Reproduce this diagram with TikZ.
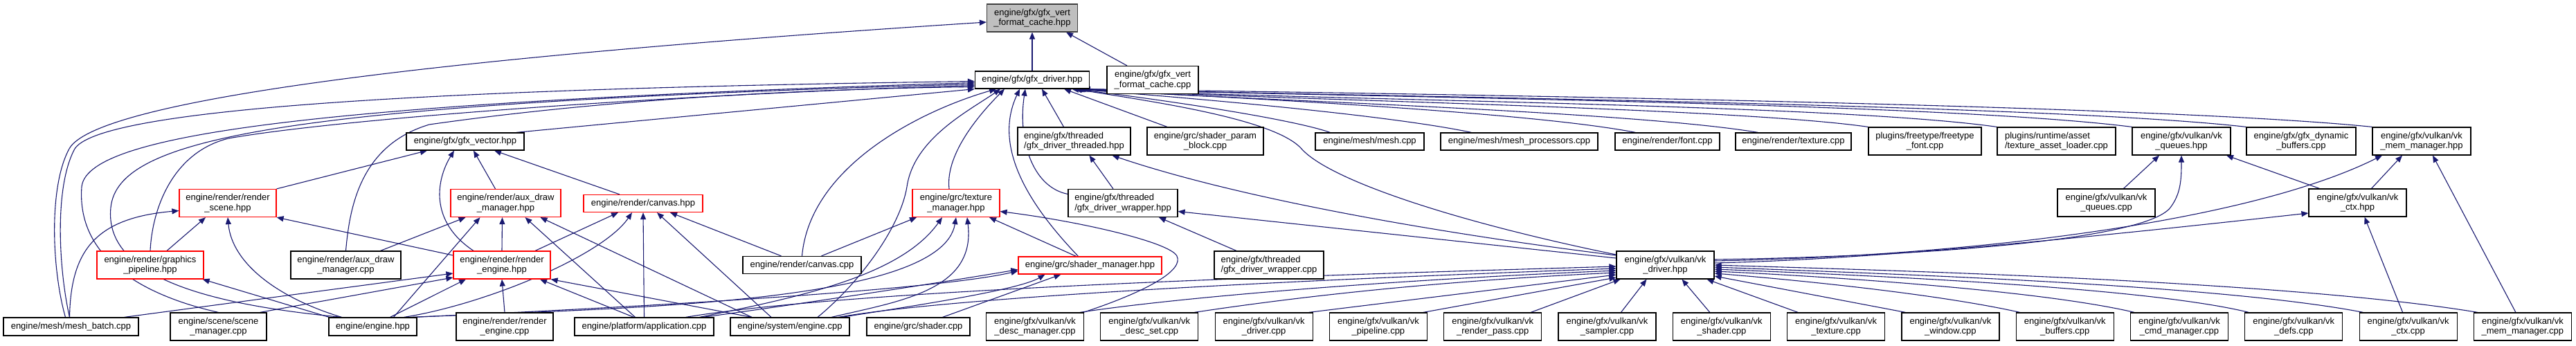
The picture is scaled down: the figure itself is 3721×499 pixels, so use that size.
\documentclass[tikz,border=0pt]{standalone}
\usepackage{fontspec}
\setmainfont{Liberation Sans}
\usetikzlibrary{arrows.meta}
\definecolor{navy}{HTML}{191970}
\definecolor{rootfill}{HTML}{BFBFBF}
\newcommand\nodefont{\fontsize{13}{14.3}\selectfont}
\pgfdeclarelayer{back}
\pgfdeclarelayer{bg}
\pgfsetlayers{back,bg,main}
\begin{document}
\begin{tikzpicture}[x=1pt,y=-1pt,
  box/.style={draw=black,line width=1.2pt,fill=white,inner sep=0pt,font=\nodefont,align=center},
  rbox/.style={box,draw=red},
  one/.style={minimum height=25pt},
  two/.style={minimum height=40pt},
  w/.style={minimum width=#1},
  e/.style={draw=navy,line width=1.1pt,-{Triangle[length=10pt,width=8pt]}}]
\begin{pgfonlayer}{back}
\fill[white] (0,0) rectangle (3721,499);
\end{pgfonlayer}
\useasboundingbox (0,0) rectangle (3721,499);
% row 1-2
\node[box,fill=rootfill,draw=black!75,w=131pt,two] (R) at (1491,26) {engine/gfx/gfx\_vert\\\_format\_cache.hpp};
\node[box,w=165pt,one] (D) at (1491,115.5) {engine/gfx/gfx\_driver.hpp};
\node[box,w=132pt,two] (VC) at (1665,115.5) {engine/gfx/gfx\_vert\\\_format\_cache.cpp};
% row 3
\node[box,w=170pt,one] (GV) at (672,204.5) {engine/gfx/gfx\_vector.hpp};
\node[box,w=163pt,two,align=left] (DT) at (1551.5,204) {engine/gfx/threaded\\/gfx\_driver\_threaded.hpp};
\node[box,w=168pt,two] (SPB) at (1741,204) {engine/grc/shader\_param\\\_block.cpp};
\node[box,w=157pt,one] (MESH) at (1978.5,204.5) {engine/mesh/mesh.cpp};
\node[box,w=227pt,one] (MP) at (2194.5,204.5) {engine/mesh/mesh\_processors.cpp};
\node[box,w=151pt,one] (FONT) at (2408.5,204.5) {engine/render/font.cpp};
\node[box,w=167pt,one] (TEX) at (2590.5,204.5) {engine/render/texture.cpp};
\node[box,w=163pt,two] (FT) at (2780.5,204) {plugins/freetype/freetype\\\_font.cpp};
\node[box,w=171pt,two,align=left] (TAL) at (2970.5,204) {plugins/runtime/asset\\/texture\_asset\_loader.cpp};
\node[box,w=142pt,two] (QH) at (3151,204) {engine/gfx/vulkan/vk\\\_queues.hpp};
\node[box,w=158pt,two] (DYN) at (3324,204) {engine/gfx/gfx\_dynamic\\\_buffers.cpp};
\node[box,w=142pt,two] (MMH) at (3498,204) {engine/gfx/vulkan/vk\\\_mem\_manager.hpp};
% row 4
\node[rbox,w=140pt,two] (RS) at (329,293.5) {engine/render/render\\\_scene.hpp};
\node[rbox,w=159pt,two] (ADH) at (730.5,293.5) {engine/render/aux\_draw\\\_manager.hpp};
\node[rbox,w=172pt,one] (CH) at (929,294) {engine/render/canvas.hpp};
\node[rbox,w=126pt,two] (TM) at (1381,293.5) {engine/grc/texture\\\_manager.hpp};
\node[box,w=158pt,two,align=left] (DW) at (1622,293.5) {engine/gfx/threaded\\/gfx\_driver\_wrapper.hpp};
\node[box,w=141pt,two] (QC) at (3042.5,293) {engine/gfx/vulkan/vk\\\_queues.cpp};
\node[box,w=141pt,two] (CTXH) at (3405.5,293) {engine/gfx/vulkan/vk\\\_ctx.hpp};
% row 5
\node[rbox,w=154pt,two] (GP) at (217,383) {engine/render/graphics\\\_pipeline.hpp};
\node[box,w=159pt,two] (ADC) at (499.5,383) {engine/render/aux\_draw\\\_manager.cpp};
\node[rbox,w=140pt,two] (REH) at (725,383) {engine/render/render\\\_engine.hpp};
\node[box,w=171pt,one] (CC) at (1158.5,383) {engine/render/canvas.cpp};
\node[rbox,w=207pt,one] (SM) at (1574.5,383.5) {engine/grc/shader\_manager.hpp};
\node[box,w=158pt,two,align=left] (DWC) at (1833,383) {engine/gfx/threaded\\/gfx\_driver\_wrapper.cpp};
\node[box,w=141pt,two] (VKD) at (2405.5,383) {engine/gfx/vulkan/vk\\\_driver.hpp};
% row 6
\node[box,w=195pt,minimum height=26pt] (MB) at (102.5,472) {engine/mesh/mesh\_batch.cpp};
\node[box,w=139pt,two] (SCM) at (315.5,472) {engine/scene/scene\\\_manager.cpp};
\node[box,w=127pt,minimum height=26pt] (EH) at (538.5,472) {engine/engine.hpp};
\node[box,w=140pt,two] (REC) at (729,472) {engine/render/render\\\_engine.cpp};
\node[box,w=201pt,minimum height=26pt] (APP) at (930.5,472) {engine/platform/application.cpp};
\node[box,w=172pt,minimum height=26pt] (SE) at (1141,472) {engine/system/engine.cpp};
\node[box,w=149pt,minimum height=26pt] (SH) at (1326.5,472) {engine/grc/shader.cpp};
\node[box,w=141pt,two] (V1) at (1495,472) {engine/gfx/vulkan/vk\\\_desc\_manager.cpp};
\node[box,w=141pt,two] (V2) at (1660.3,472) {engine/gfx/vulkan/vk\\\_desc\_set.cpp};
\node[box,w=141pt,two] (V3) at (1825.6,472) {engine/gfx/vulkan/vk\\\_driver.cpp};
\node[box,w=141pt,two] (V4) at (1990.9,472) {engine/gfx/vulkan/vk\\\_pipeline.cpp};
\node[box,w=141pt,two] (V5) at (2156.2,472) {engine/gfx/vulkan/vk\\\_render\_pass.cpp};
\node[box,w=141pt,two] (V6) at (2321.5,472) {engine/gfx/vulkan/vk\\\_sampler.cpp};
\node[box,w=141pt,two] (V7) at (2486.8,472) {engine/gfx/vulkan/vk\\\_shader.cpp};
\node[box,w=141pt,two] (V8) at (2652.1,472) {engine/gfx/vulkan/vk\\\_texture.cpp};
\node[box,w=141pt,two] (V9) at (2817.4,472) {engine/gfx/vulkan/vk\\\_window.cpp};
\node[box,w=141pt,two] (V10) at (2982.7,472) {engine/gfx/vulkan/vk\\\_buffers.cpp};
\node[box,w=141pt,two] (V11) at (3148,472) {engine/gfx/vulkan/vk\\\_cmd\_manager.cpp};
\node[box,w=141pt,two] (V12) at (3313.3,472) {engine/gfx/vulkan/vk\\\_defs.cpp};
\node[box,w=141pt,two] (V13) at (3478.6,472) {engine/gfx/vulkan/vk\\\_ctx.cpp};
\node[box,w=141pt,two] (V14) at (3643.9,472) {engine/gfx/vulkan/vk\\\_mem\_manager.cpp};

\begin{pgfonlayer}{bg}
% into root
\draw[e] (D.north) -- (R.south);
\draw[e] ([xshift=-37pt]VC.north) -- ([xshift=49pt]R.south);
\draw[e] ([xshift=-8pt]MB.north) .. controls (75,390) and (70,270) .. (100,215) .. controls (130,160) and (450,95) .. ([yshift=-6pt]R.west);
% into gfx_driver (left)
\draw[e] ([xshift=-2pt]MB.north) .. controls (85,390) and (78,270) .. (108,215) .. controls (140,165) and (500,130) .. ([yshift=-2pt]D.west);
\draw[e] (SCM.north) .. controls (220,430) and (110,380) .. (118,270) .. controls (125,200) and (400,150) .. ([yshift=-4pt]D.west);
\draw[e] ([xshift=-45pt]EH.north) .. controls (300,440) and (150,400) .. (160,300) .. controls (170,200) and (400,150) .. ([yshift=-6pt]D.west);
\draw[e] (GP.north) .. controls (220,300) and (250,220) .. (330,200) .. controls (500,170) and (1000,135) .. ([yshift=-8pt]D.west);
\draw[e] (ADC.north) .. controls (505,300) and (520,210) .. (620,180) .. controls (900,140) and (1200,128) .. ([yshift=-10pt]D.west);
\draw[e] ([xshift=-12pt]GV.north east) -- (D.south west);
% into gfx_driver (below)
\draw[e] (CC.north) .. controls (1170,240) and (1330,160) .. ([xshift=-52pt]D.south);
\draw[e] ([xshift=40pt]SE.north) .. controls (1240,410) and (1300,330) .. (1310,270) .. controls (1320,200) and (1400,160) .. ([xshift=-46pt]D.south);
\draw[e] ([xshift=-10pt]TM.north) .. controls (1365,220) and (1420,160) .. ([xshift=-40pt]D.south);
\draw[e] ([xshift=-17pt]SM.north) .. controls (1500,310) and (1430,220) .. ([xshift=-18pt]D.south);
\draw[e] ([yshift=13pt]DW.west) .. controls (1490,270) and (1470,200) .. ([xshift=-10pt]D.south);
\draw[e] ([xshift=-15pt]DT.north) -- ([xshift=14pt]D.south);
\draw[e] ([xshift=-55pt]SPB.north) -- ([xshift=46pt]D.south);
\draw[e] ([yshift=15pt]VKD.west) .. controls (2100,320) and (1920,260) .. (1880,215) .. controls (1840,170) and (1650,145) .. ([xshift=62pt]D.south);
% into gfx_driver (right)
\draw[e] ([xshift=22pt]MESH.north west) .. controls (1860,170) and (1650,140) .. ([xshift=-26pt]D.south east);
\draw[e] ([xshift=45pt]MP.north west) .. controls (2000,165) and (1700,140) .. ([xshift=-23pt]D.south east);
\draw[e] ([xshift=30pt]FONT.north west) .. controls (2200,160) and (1750,140) .. ([xshift=-21pt]D.south east);
\draw[e] ([xshift=33pt]TEX.north west) .. controls (2350,160) and (1800,145) .. ([xshift=-19pt]D.south east);
\draw[e] (FT.north west) .. controls (2500,155) and (1850,145) .. ([xshift=-17pt]D.south east);
\draw[e] (TAL.north west) .. controls (2650,150) and (1900,145) .. ([xshift=-15pt]D.south east);
\draw[e] (QH.north west) .. controls (2800,148) and (1950,140) .. ([xshift=-13pt]D.south east);
\draw[e] (DYN.north west) .. controls (2950,150) and (2000,140) .. ([xshift=-11pt]D.south east);
\draw[e] (MMH.north west) .. controls (3100,150) and (2000,135) .. ([xshift=-9pt]D.south east);
% into gfx_vector
\draw[e] (RS.north east) -- ([xshift=-55pt]GV.south);
\draw[e] ([xshift=-41pt]REH.north) .. controls (620,320) and (630,260) .. ([xshift=-16pt]GV.south);
\draw[e] ([xshift=-15pt]ADH.north) -- ([xshift=12pt]GV.south);
\draw[e] ([xshift=-34pt]CH.north) -- ([xshift=42pt]GV.south);
% into render_scene
\draw[e] ([xshift=-2pt]MB.north) .. controls (102,360) and (140,315) .. ([yshift=-11pt]RS.west);
\draw[e] ([xshift=24pt]GP.north) -- ([xshift=-32pt]RS.south);
\draw[e] ([xshift=-45pt]EH.north) .. controls (400,430) and (335,380) .. (RS.south);
\draw[e] ([yshift=14pt]REH.west) -- (RS.south east);
% into graphics_pipeline
\draw[e] ([xshift=-63pt]EH.north) -- ([xshift=-2pt]GP.south east);
% into aux_draw_manager.hpp
\draw[e] ([xshift=50pt]ADC.north) -- ([xshift=-58pt]ADH.south);
\draw[e] ([xshift=30pt]EH.north) -- ([xshift=-37pt]ADH.south);
\draw[e] (REH.north) -- ([xshift=-5pt]ADH.south);
\draw[e] ([xshift=-13pt]APP.north) -- ([xshift=28pt]ADH.south);
\draw[e] ([xshift=-55pt]SE.north) -- ([xshift=50pt]ADH.south);
% into canvas.hpp
\draw[e] ([xshift=48pt]REH.north) -- ([xshift=-36pt]CH.south);
\draw[e] ([xshift=45pt]EH.north) .. controls (700,440) and (870,370) .. ([xshift=-16pt]CH.south);
\draw[e] (APP.north) -- (CH.south);
\draw[e] ([xshift=-27pt]SE.north) -- ([xshift=20pt]CH.south);
\draw[e] ([xshift=-30pt]CC.north) -- ([xshift=39pt]CH.south);
% into render_engine.hpp
\draw[e] ([xshift=77pt]MB.north) -- ([yshift=-12pt]REH.west);
\draw[e] ([xshift=60pt]SCM.north) -- ([yshift=-18pt]REH.west);
\draw[e] ([xshift=25pt]EH.north) -- ([xshift=-52pt]REH.south);
\draw[e] (REC.north) -- (REH.south);
\draw[e] ([xshift=-15pt]APP.north) -- ([xshift=55pt]REH.south);
\draw[e] ([xshift=-55pt]SE.north) -- (REH.south east);
% into texture_manager
\draw[e] ([xshift=28pt]CC.north) -- ([xshift=-57pt]TM.south);
\draw[e] ([xshift=-20pt]SM.north) -- ([xshift=48pt]TM.south);
\draw[e] ([xshift=70pt]V1.north) .. controls (1660,420) and (1710,390) .. (1700,370) .. controls (1690,350) and (1560,320) .. ([yshift=-12pt]TM.east);
\draw[e] ([xshift=55pt]EH.north) .. controls (900,445) and (1360,440) .. (TM.south);
\draw[e] ([xshift=80pt]APP.north) .. controls (1150,430) and (1300,400) .. ([xshift=-20pt]TM.south);
\draw[e] ([xshift=60pt]SE.north) .. controls (1300,435) and (1410,420) .. ([xshift=16pt]TM.south);
% into shader_manager
\draw[e] ([xshift=58pt]EH.north) .. controls (900,445) and (1350,420) .. ([yshift=-8pt]SM.west);
\draw[e] ([xshift=85pt]APP.north) .. controls (1150,440) and (1350,410) .. ([yshift=-6pt]SM.west);
\draw[e] ([xshift=75pt]SE.north) .. controls (1300,445) and (1470,420) .. ([xshift=-65pt]SM.south);
\draw[e] ([xshift=35pt]SH.north) -- ([xshift=-42pt]SM.south);
% threaded
\draw[e] ([xshift=-47pt]DWC.north) -- ([xshift=52pt]DW.south);
\draw[e] ([yshift=10pt]VKD.west) -- ([yshift=-12pt]DW.east);
\draw[e] ([xshift=-14pt]DW.north) -- ([xshift=22pt]DT.south);
\draw[e] ([yshift=14pt]VKD.west) .. controls (2100,340) and (1800,290) .. ([xshift=55pt]DT.south);
% vulkan headers
\draw[e] ([yshift=3pt]VKD.east) .. controls (2700,375) and (3000,345) .. ([yshift=-15pt]CTXH.west);
\draw[e] ([yshift=8pt]VKD.east) .. controls (2800,370) and (3100,345) .. (3135,300) .. controls (3150,280) and (3151,260) .. (QH.south);
\draw[e] ([yshift=6pt]VKD.east) .. controls (2850,370) and (3250,320) .. ([xshift=-57pt]MMH.south);
\draw[e] ([xshift=25pt]QC.north) -- ([xshift=-32pt]QH.south);
\draw[e] ([xshift=-55pt]CTXH.north) -- ([xshift=65pt]QH.south);
\draw[e] ([xshift=20pt]CTXH.north) -- ([xshift=-28pt]MMH.south);
\draw[e] ([xshift=-10pt]V14.north) -- ([xshift=16pt]MMH.south);
\draw[e] ([xshift=-8pt]V13.north) -- ([xshift=10pt]CTXH.south);
% into vk_driver.hpp
\draw[e] ([xshift=60pt]APP.north) .. controls (1250,415) and (2000,395) .. ([yshift=-2pt]VKD.west);
\draw[e] ([xshift=70pt]SE.north) .. controls (1400,425) and (2000,400) .. ([yshift=-5pt]VKD.west);
\draw[e] ([xshift=65pt]V1.north) .. controls (1700,430) and (2000,405) .. ([yshift=-8pt]VKD.west);
\draw[e] ([xshift=65pt]V2.north) .. controls (1900,425) and (2100,405) .. ([yshift=-11pt]VKD.west);
\draw[e] ([xshift=65pt]V3.north) -- ([yshift=-14pt]VKD.west);
\draw[e] ([xshift=65pt]V4.north) -- ([yshift=-18pt]VKD.west);
\draw[e] ([xshift=55pt]V5.north) -- ([xshift=-65pt]VKD.south);
\draw[e] ([xshift=20pt]V6.north) -- ([xshift=-27pt]VKD.south);
\draw[e] ([xshift=-17pt]V7.north) -- ([xshift=24pt]VKD.south);
\draw[e] ([xshift=-55pt]V8.north) -- ([xshift=60pt]VKD.south);
\draw[e] ([xshift=-65pt]V9.north) -- ([yshift=-16pt]VKD.east);
\draw[e] ([xshift=-65pt]V10.north) .. controls (2800,425) and (2600,405) .. ([yshift=-12pt]VKD.east);
\draw[e] ([xshift=-65pt]V11.north) .. controls (2950,420) and (2650,400) .. ([yshift=-9pt]VKD.east);
\draw[e] ([xshift=-65pt]V12.north) .. controls (3100,415) and (2700,398) .. ([yshift=-6pt]VKD.east);
\draw[e] ([xshift=-65pt]V13.north) .. controls (3200,410) and (2700,395) .. ([yshift=-3pt]VKD.east);
\draw[e] ([xshift=-65pt]V14.north) .. controls (3300,405) and (2700,390) .. (VKD.east);
\end{pgfonlayer}
\end{tikzpicture}
\end{document}
